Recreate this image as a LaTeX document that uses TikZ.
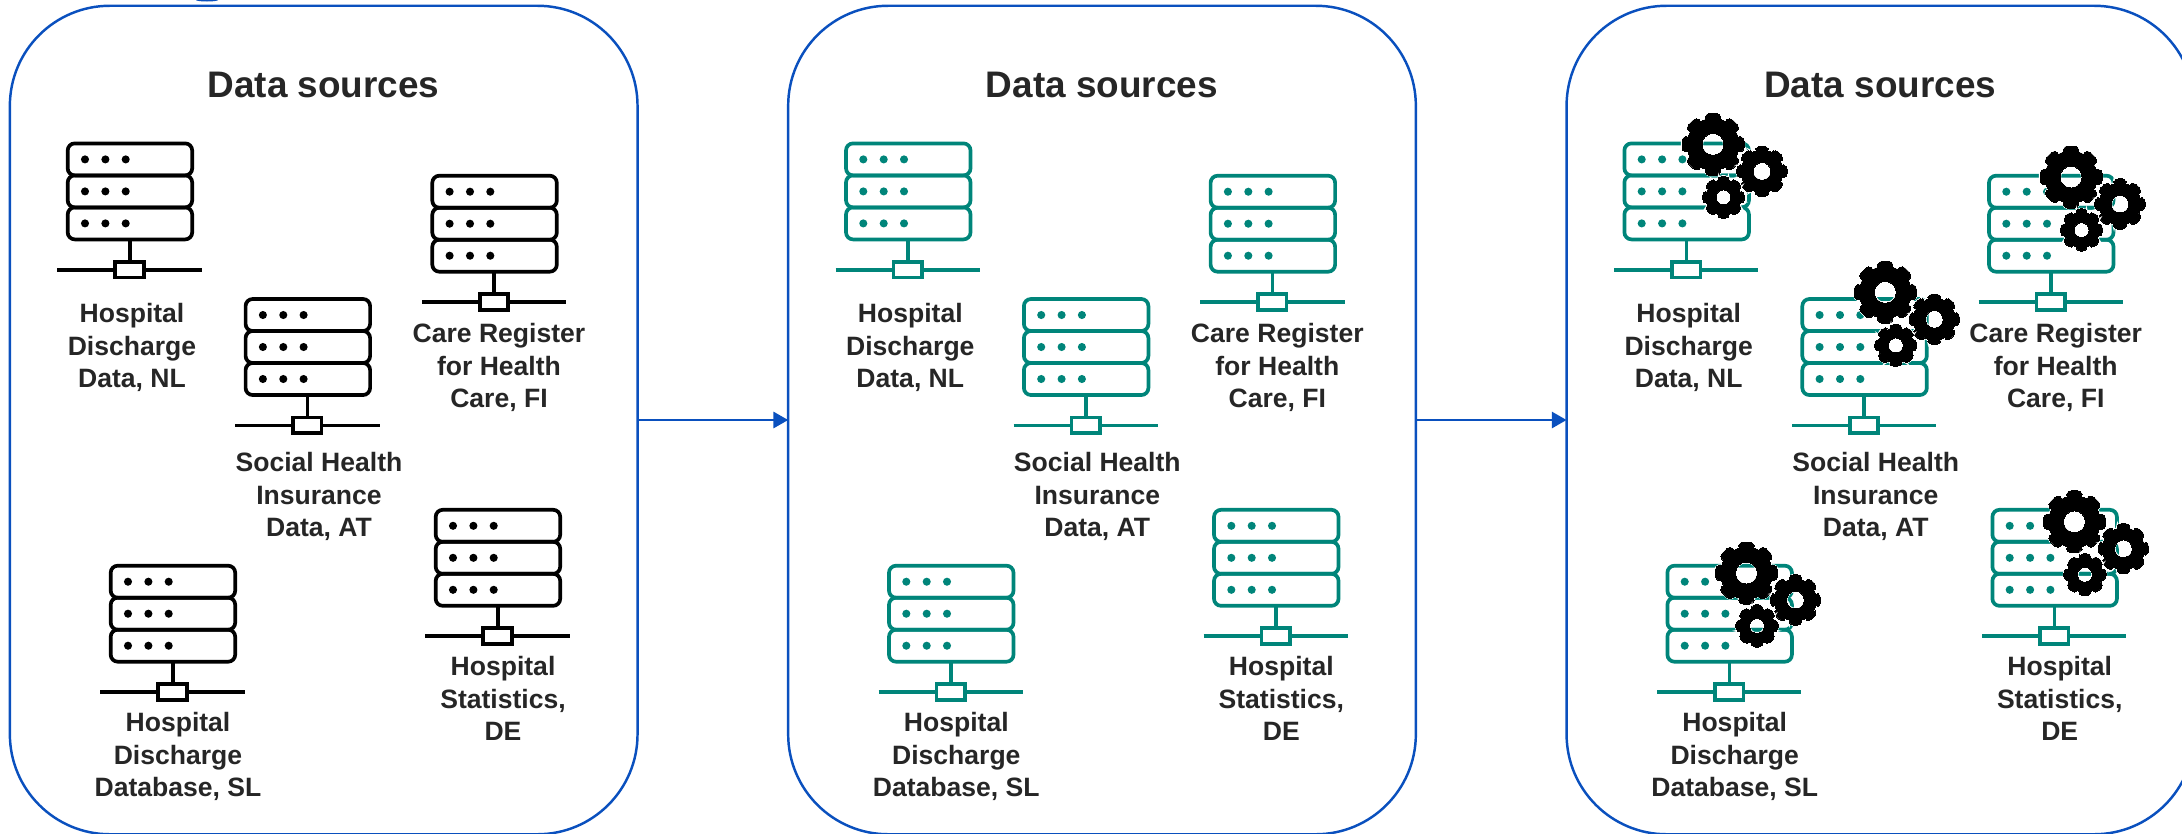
\documentclass[tikz,border=0pt]{standalone}
\usepackage{fontspec}
\usepackage{xcolor}
\setmainfont{Liberation Sans}
\usetikzlibrary{arrows.meta}
\definecolor{panelblue}{HTML}{0A50BE}
\definecolor{srvteal}{HTML}{00857A}
\definecolor{txtgray}{HTML}{262626}
\tikzset{
  server/.pic={
    \foreach \t in {0,32,64}
      \draw[rounded corners=2pt] (0,\t) rectangle (124.5,\t+32);
    \foreach \t in {16,48,80}
      \foreach \d in {17.3,37.7,58}
        \fill (\d,\t) circle[radius=1.15pt];
    \draw (62,96) -- (62,118.5);
    \draw (47.6,118.5) rectangle (76,134);
    \draw (-10.3,126.5) -- (47.6,126.5);
    \draw (76,126.5) -- (134,126.5);
  },
  gear/.pic={
    \foreach \g/\w in {white/.6pt,black/0pt} {
      \filldraw[even odd rule,fill=black,draw=\g,line width=\w] (0,0) circle[radius=26] circle[radius=11];
      \foreach \a in {0,45,...,315}
        \filldraw[fill=black,draw=\g,line width=\w,rotate=\a,rounded corners=1pt] (-8.5,24) -- (-6.8,31) -- (6.8,31) -- (8.5,24) -- cycle;
    }
  },
  gearset/.pic={
    \pic at (0,0) {gear};
    \pic[scale=.81] at (49,27) {gear};
    \pic[scale=.68] at (10.5,53) {gear};
  }
}

\begin{document}
\begin{tikzpicture}[x=0.01cm,y=-0.01cm,>={Triangle[length=4.2pt,width=4.6pt]},
                panel/.style={draw=panelblue,line width=.7pt,rounded corners=1cm,minimum width=6.273cm,minimum height=8.28cm,outer sep=0pt},
                title/.style={font=\bfseries\fontsize{10.5}{12.6}\selectfont,text=txtgray,inner sep=0pt},
                label/.style={font=\bfseries\fontsize{7.55}{9.3}\selectfont,text=txtgray,align=center,inner sep=0pt},
                flow/.style={->,draw=panelblue,line width=.7pt}]

      \useasboundingbox (0,0) rectangle (2182,833);
      \clip (0,0) rectangle (2182,833);

      \fill[panelblue] (207,0) ellipse[x radius=11,y radius=1.5];

      \foreach \p/\ox/\col in {1/0/black,2/778.3/srvteal,3/1556.7/srvteal} {
        \begin{scope}[shift={(\ox,0)}]
          \node[panel] (panel\p) at (323.7,420) {};
          \node[title] (title\p) at (323.5,85) {Data sources};
          \foreach \nm/\ix/\iy/\lx/\ly/\txt in {
              nl/67.7/143.4/132/347.5/{Hospital\\Discharge\\Data, NL},
              fi/432.3/175.7/499/367.5/{Care Register\\for Health\\Care, FI},
              at/245.6/299/319/496.5/{Social Health\\Insurance\\Data, AT},
              de/435.7/509.8/503/698.5/{Hospital\\Statistics,\\DE},
              sl/110.7/565.7/178/756.5/{Hospital\\Discharge\\Database, SL}} {
            \pic[color=\col,line width=1.05pt] at (\ix,\iy) {server};
            \node[label] (\nm\p) at (\lx,\ly) {\txt};
          }
        \end{scope}
      }

      \begin{scope}[shift={(1556.7,0)}]
        \foreach \gx/\gy in {156.3/144.3,514.3/177,328.6/292.3,517.7/521.7,189.7/573} {
          \pic at (\gx,\gy) {gearset};
        }
      \end{scope}

      \draw[flow] (panel1) -- (panel2);
      \draw[flow] (panel2) -- (panel3);
\end{tikzpicture}
\end{document}
